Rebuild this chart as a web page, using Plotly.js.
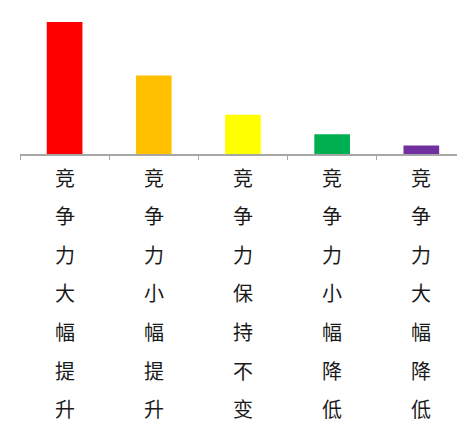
<!DOCTYPE html>
<html>
<head>
<meta charset="utf-8">
<script src="https://cdn.plot.ly/plotly-3.0.1.min.js"></script>
<style>html,body{margin:0;padding:0;background:#fff;}#chart{width:457px;height:422px;}</style>
</head>
<body>
<div id="chart"></div>
<script>
// Data
const categories = ["竞争力大幅提升", "竞争力小幅提升", "竞争力保持不变", "竞争力小幅降低", "竞争力大幅降低"];
const values = [47, 28, 14, 7, 3];
const barColors = ["#FF0000", "#FFC000", "#FFFF00", "#00B050", "#7030A0"];

const trace = {
  type: "bar",
  x: categories,
  y: values,
  width: 0.4,
  marker: { color: barColors, line: { width: 0 } },
  hoverinfo: "x+y"
};

// vertical labels: one annotation per character
const annotations = [];
categories.forEach(function (cat) {
  Array.from(cat).forEach(function (ch, j) {
    annotations.push({
      xref: "x", yref: "paper",
      x: cat, y: 0,
      yanchor: "middle", xanchor: "center",
      yshift: -(23 + j * 38.6),
      text: ch,
      showarrow: false,
      borderpad: 0,
      font: { family: "Noto Sans CJK SC, sans-serif", size: 20, color: "#1a1a1a" }
    });
  });
});

const layout = {
  width: 457, height: 422,
  margin: { l: 20, r: 0, t: 10, b: 268 },
  paper_bgcolor: "#ffffff",
  plot_bgcolor: "#ffffff",
  showlegend: false,
  xaxis: {
    type: "category",
    range: [-0.5, 4.4],
    showticklabels: false,
    showline: true, linecolor: "#A6A6A6", linewidth: 1.5,
    ticks: "outside", tickson: "boundaries", ticklen: 4, tickcolor: "#A6A6A6", tickwidth: 1,
    showgrid: false, zeroline: false, fixedrange: true
  },
  yaxis: {
    range: [0, 51.3],
    showticklabels: false, showgrid: false, zeroline: false, showline: false, ticks: "",
    fixedrange: true
  },
  annotations: annotations
};

Plotly.newPlot("chart", [trace], layout, { displayModeBar: false, staticPlot: true });
</script>
</body>
</html>
